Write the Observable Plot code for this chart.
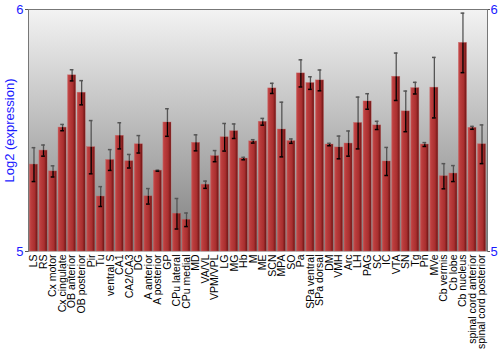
<!DOCTYPE html>
<html>
<head>
<meta charset="utf-8">
<script src="https://cdn.jsdelivr.net/npm/d3@7"></script>
<script src="https://cdn.jsdelivr.net/npm/@observablehq/plot@0.6"></script>
<style>
  html, body { margin: 0; padding: 0; background: #fff; }
  svg { font-family: "Liberation Sans", Arial, sans-serif; }
</style>
</head>
<body>
<div id="chart"></div>
<script>
const regions = ["LS","RS","Cx motor","Cx cingulate","OB anterior","OB posterior","Pir","Tu","ventral S","CA1","CA2/CA3","DG","A anterior","A posterior","GP","CPu lateral","CPu medial","MD","VA/VL","VPM/VPL","LG","MG","Hb","M","ME","SCN","MPA","SO","Pa","SPa ventral","SPa dorsal","DM","VMH","Arc","LH","PAG","SC","IC","VTA","SN","Tg","Pn","MVe","Cb vermis","Cb lobe","Cb nucleus","spinal cord anterior","spinal cord posterior"];
const expression = [5.359,5.417,5.331,5.512,5.728,5.656,5.431,5.227,5.378,5.478,5.373,5.443,5.228,5.334,5.533,5.156,5.131,5.449,5.276,5.394,5.472,5.497,5.384,5.455,5.536,5.674,5.504,5.456,5.736,5.696,5.707,5.442,5.430,5.446,5.531,5.620,5.521,5.372,5.722,5.579,5.675,5.442,5.677,5.311,5.322,5.862,5.511,5.443];
const stdErr = [0.070,0.023,0.023,0.013,0.023,0.050,0.110,0.041,0.043,0.054,0.028,0.036,0.032,0.002,0.057,0.063,0.028,0.033,0.015,0.023,0.057,0.030,0.005,0.007,0.014,0.021,0.113,0.009,0.056,0.026,0.043,0.005,0.047,0.052,0.107,0.032,0.017,0.058,0.098,0.084,0.024,0.008,0.125,0.052,0.033,0.123,0.006,0.080];
const yTicks = [5, 6];
const yLabel = "Log2 (expression)";

const data = regions.map((r, i) => ({region: r, value: expression[i], lo: expression[i] - stdErr[i], hi: expression[i] + stdErr[i]}));

const plot = Plot.plot({
  width: 500,
  height: 350,
  marginLeft: 28,
  marginRight: 13,
  marginTop: 9,
  marginBottom: 99,
  style: {fontFamily: "Liberation Sans, Arial, sans-serif", background: "white"},
  x: {domain: regions, padding: 0.15, round: false, label: null},
  y: {domain: [5, 6], label: null},
  marks: [
    Plot.frame({fill: "url(#bgGrad)", stroke: null}),
    Plot.ruleY([6], {stroke: "#777"}),
    Plot.frame({anchor: "left", stroke: "#777"}),
    Plot.frame({anchor: "right", stroke: "#777"}),
    Plot.barY(data, {x: "region", y1: 5, y2: "value", fill: "url(#barGrad)", stroke: "#c86060", strokeWidth: 0.6, strokeOpacity: 0.6}),
    Plot.ruleX(data, {x: "region", y1: "value", y2: "hi", stroke: "#555", strokeWidth: 1.3}),
    Plot.ruleX(data, {x: "region", y1: "lo", y2: "value", stroke: "#000", strokeWidth: 1.3}),
    Plot.tickY(data, {x: "region", y: "hi", stroke: "#555", strokeWidth: 1.5, insetLeft: 2.2, insetRight: 2.2}),
    Plot.tickY(data, {x: "region", y: "lo", stroke: "#000", strokeWidth: 1.5, insetLeft: 2.2, insetRight: 2.2}),
    Plot.axisY({anchor: "left", ticks: yTicks, tickFormat: "d", tickSize: 3, tickPadding: 2, stroke: "#555", fill: "#1a1aff", fontSize: 13, label: null}),
    Plot.axisY({anchor: "right", ticks: yTicks, tickFormat: "d", tickSize: 2, tickPadding: 1, stroke: "#555", fill: "#1a1aff", fontSize: 13, label: null}),
    Plot.text([yLabel], {frameAnchor: "left", rotate: -90, dx: -19, textAnchor: "middle", fill: "#1a1aff", fontSize: 13}),
    Plot.axisX({tickRotate: -90, tickSize: 0, tickPadding: 3, fontSize: 10.5, fill: "#000", label: null})
  ]
});

const ns = "http://www.w3.org/2000/svg";
const defs = document.createElementNS(ns, "defs");
defs.innerHTML = `
  <linearGradient id="bgGrad" x1="0" y1="0" x2="0" y2="1">
    <stop offset="0" stop-color="#f3f3f3"/>
    <stop offset="1" stop-color="#7e7e7e"/>
  </linearGradient>
  <linearGradient id="barGrad" x1="0" y1="0" x2="1" y2="0">
    <stop offset="0" stop-color="#c85050"/>
    <stop offset="0.2" stop-color="#bb3d3d"/>
    <stop offset="0.65" stop-color="#a92f2f"/>
    <stop offset="1" stop-color="#6a1212"/>
  </linearGradient>`;
plot.insertBefore(defs, plot.firstChild);
document.getElementById("chart").appendChild(plot);
</script>
</body>
</html>
